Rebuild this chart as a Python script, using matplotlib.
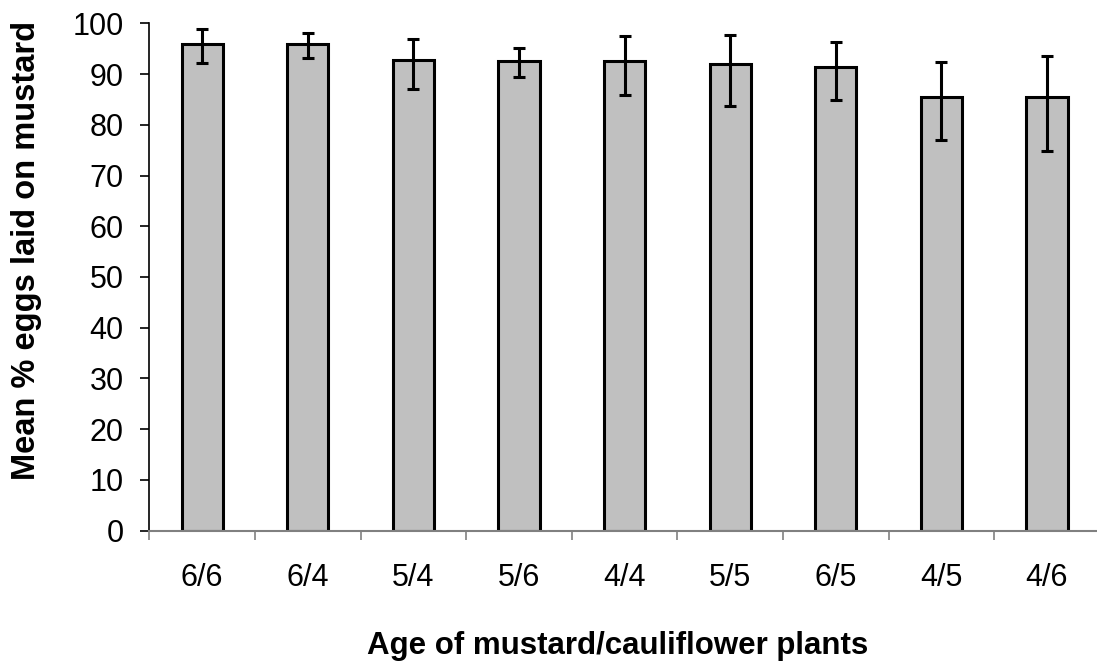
import matplotlib
matplotlib.use("Agg")
import matplotlib.pyplot as plt
import numpy as np

# data
groups = ["6/6", "6/4", "5/4", "5/6", "4/4", "5/5", "6/5", "4/5", "4/6"]
means = [96.0, 95.9, 92.8, 92.6, 92.6, 92.0, 91.4, 85.4, 85.4]
upper = [98.9, 98.0, 96.9, 95.2, 97.4, 97.6, 96.3, 92.4, 93.5]
lower = [92.2, 93.1, 87.0, 89.4, 85.8, 83.6, 84.9, 76.9, 74.8]

plt.rcParams["font.family"] = ["Liberation Sans", "DejaVu Sans"]

fig = plt.figure(figsize=(10.97, 6.71), dpi=100)
ax = fig.add_axes([0.1361, 0.2091, 0.8664, 0.7562])

x = np.arange(len(groups))
err = [np.array(means) - np.array(lower), np.array(upper) - np.array(means)]

ax.bar(x, means, width=0.39, color="#c0c0c0", edgecolor="black", linewidth=2.2, zorder=2)
ax.errorbar(x, means, yerr=err, fmt="none", ecolor="black", elinewidth=2.2,
            capsize=4.3, capthick=2.2, zorder=3)

ax.set_xlim(-0.5, len(groups) - 0.5)
ax.set_ylim(0, 100)
ax.set_yticks(range(0, 101, 10))

ax.set_xticks(x)
ax.set_xticklabels(groups)
ax.set_xticks(np.arange(len(groups) + 1) - 0.5, minor=True)
ax.tick_params(axis="x", which="major", length=0, pad=23, labelsize=22)
ax.tick_params(axis="x", which="minor", length=6.5, width=1.2, color="#808080", direction="out")
ax.tick_params(axis="y", length=6.5, width=1.2, pad=12, labelsize=22, direction="out")

ax.spines["top"].set_visible(False)
ax.spines["right"].set_visible(False)
ax.spines["left"].set_linewidth(1.2)
ax.spines["bottom"].set_linewidth(1.5)
ax.spines["bottom"].set_color("#808080")

fig.text(0.563, 0.038, "Age of mustard/cauliflower plants", ha="center", va="center",
         fontsize=22.5, fontweight="bold")
fig.text(0.024, 0.627, "Mean % eggs laid on mustard", ha="center", va="center",
         rotation=90, fontsize=23.5, fontweight="bold")

fig.savefig("out.png", dpi=100)
